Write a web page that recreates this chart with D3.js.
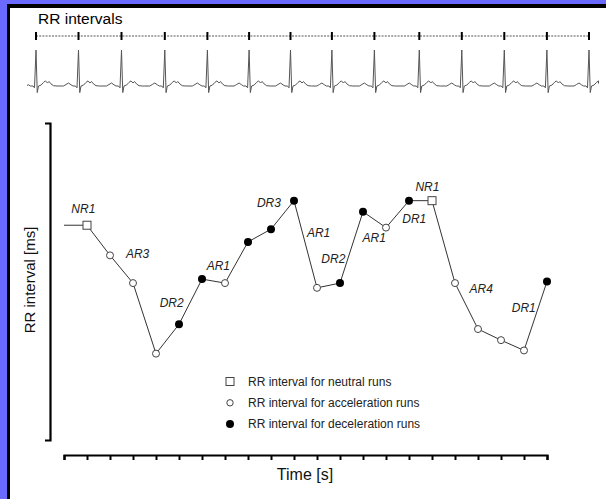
<!DOCTYPE html>
<html>
<head>
<meta charset="utf-8">
<script src="https://cdn.jsdelivr.net/npm/d3@7"></script>
<style>
  html, body { margin: 0; padding: 0; background: #fff; }
  svg { display: block; }
  text { font-family: "Liberation Sans", Arial, sans-serif; }
</style>
</head>
<body>
<svg id="chart" width="606" height="499"></svg>
<script>
// RR interval series (ms), one value per beat along the time axis
const rrValues = [871, 871, 833, 798, 709, 746, 803, 798, 850, 866, 902,
                  792, 798, 888, 868, 902, 902, 798, 740, 726, 713, 800];

// Run labels, anchored in data units (beat index, ms)
const runLabels = ["NR1", "AR3", "DR2", "AR1", "DR3", "AR1", "DR2", "AR1", "DR1", "NR1", "AR4", "DR1"];
const runLabelBeat = [0.84, 3.20, 4.68, 6.71, 8.91, 11.07, 11.71, 13.49, 15.23, 15.80, 18.14, 19.99];
const runLabelMs   = [886, 830, 768, 815, 894, 856, 823, 850, 874, 914, 785, 762];

// Legend entries
const legendTypes = ["N", "A", "D"];
const legendTexts = ["RR interval for neutral runs",
                     "RR interval for acceleration runs",
                     "RR interval for deceleration runs"];

// ECG strip: successive RR intervals (ms) between R peaks
const stripRR = [850, 860, 866, 852, 834, 828, 828, 850, 898, 850, 850, 852, 842];
// One beat of the ECG: time relative to the R peak (ms) and amplitude (mV)
const beatT  = [-300, -250, -200, -150, -110, -60, -30, 0, 25, 50, 100, 150, 190, 230, 260, 300, 350, 420];
const beatMv = [0, 0.05, 0.1, 0.04, 0, 0, -0.06, 1.2, -0.22, 0, 0.03, 0.12, 0.17, 0.1, 0.15, 0.07, 0.01, 0];

const svg = d3.select("#chart");
const W = 606, H = 499;

// ---- frame ----
svg.append("rect").attr("width", W).attr("height", H).attr("fill", "#6a6aff");
svg.append("rect").attr("x", 7).attr("y", 4).attr("width", W - 7).attr("height", H - 4).attr("fill", "#000");
svg.append("rect").attr("x", 10).attr("y", 8).attr("width", W - 10).attr("height", H - 8).attr("fill", "#fff");

// ---- ECG strip ----
svg.append("text").attr("x", 38).attr("y", 24)
  .attr("font-size", 15.5).attr("fill", "#000").text("RR intervals");

const rPeaks = [0];
stripRR.forEach(d => rPeaks.push(rPeaks[rPeaks.length - 1] + d));
const xs = d3.scaleLinear().domain([0, d3.sum(stripRR)]).range([36, 589]);
const ys = d3.scaleLinear().domain([0, 1.2]).range([86, 50]);

// dashed RR ruler with beat markers
svg.append("line")
  .attr("x1", xs(0)).attr("x2", xs(d3.sum(stripRR)))
  .attr("y1", 36).attr("y2", 36)
  .attr("stroke", "#555").attr("stroke-width", 1)
  .attr("stroke-dasharray", "2,1.2");
svg.selectAll(".rrtick").data(rPeaks).join("line")
  .attr("class", "rrtick")
  .attr("x1", d => xs(d)).attr("x2", d => xs(d))
  .attr("y1", 32).attr("y2", 40)
  .attr("stroke", "#000").attr("stroke-width", 2);

// ECG trace built from the beat shape placed at each R peak
const last = rPeaks[rPeaks.length - 1];
const ecgPts = [];
rPeaks.forEach(r => {
  beatT.forEach((t, k) => ecgPts.push([r + t, beatMv[k]]));
});
ecgPts.sort((a, b) => a[0] - b[0]);
const ecgTrace = ecgPts.filter(d => d[0] >= -180 && d[0] <= last + 190);
ecgTrace.unshift([-180, 0.02]);
ecgTrace.push([last + 190, 0.08]);
svg.append("path")
  .datum(ecgTrace)
  .attr("fill", "none").attr("stroke", "#555").attr("stroke-width", 1)
  .attr("stroke-linejoin", "round")
  .attr("d", d3.line().x(d => xs(d[0])).y(d => ys(d[1])));

// ---- RR tachogram ----
const x = d3.scaleLinear().domain([0, rrValues.length - 1]).range([64, 547]);
const y = d3.scaleLinear().domain([600, 1000]).range([440, 123]);

const yAxis = d3.axisLeft(y).tickValues([]).tickSizeOuter(5);
svg.append("g").attr("transform", "translate(50,0)").call(yAxis)
  .call(g => g.select(".domain").attr("stroke", "#000").attr("stroke-width", 2.2));

const xAxis = d3.axisBottom(x).tickValues(d3.range(rrValues.length))
  .tickSize(5).tickSizeOuter(5).tickFormat("");
svg.append("g").attr("transform", "translate(0,455)").call(xAxis)
  .call(g => g.select(".domain").attr("stroke", "#000").attr("stroke-width", 2.2))
  .call(g => g.selectAll(".tick line").attr("stroke", "#000").attr("stroke-width", 2));

svg.append("text")
  .attr("transform", "translate(35,280) rotate(-90)")
  .attr("text-anchor", "middle").attr("font-size", 15).attr("fill", "#111")
  .text("RR interval [ms]");
svg.append("text")
  .attr("x", 305).attr("y", 480).attr("text-anchor", "middle")
  .attr("font-size", 16).attr("fill", "#111").text("Time [s]");

// connecting line
svg.append("path")
  .datum(rrValues)
  .attr("fill", "none").attr("stroke", "#333").attr("stroke-width", 1)
  .attr("d", d3.line().x((d, i) => x(i)).y(d => y(d)));

// classify each beat against the previous one
const pts = rrValues.map((v, i) => ({
  i, v,
  type: i === 0 ? null : (v > rrValues[i - 1] ? "D" : v < rrValues[i - 1] ? "A" : "N")
})).filter(d => d.type);

function drawMarker(sel) {
  sel.each(function(d) {
    const g = d3.select(this);
    if (d.type === "N") {
      g.append("rect").attr("x", -4).attr("y", -4).attr("width", 8).attr("height", 8)
        .attr("fill", "#fff").attr("stroke", "#444").attr("stroke-width", 1);
    } else if (d.type === "A") {
      g.append("circle").attr("r", 3.5)
        .attr("fill", "#fff").attr("stroke", "#444").attr("stroke-width", 1);
    } else {
      g.append("circle").attr("r", 4).attr("fill", "#000");
    }
  });
}

svg.selectAll(".pt").data(pts).join("g")
  .attr("class", "pt")
  .attr("transform", d => `translate(${x(d.i)},${y(d.v)})`)
  .call(drawMarker);

// run labels
svg.selectAll(".runlab").data(runLabels).join("text")
  .attr("class", "runlab")
  .attr("x", (d, k) => x(runLabelBeat[k]))
  .attr("y", (d, k) => y(runLabelMs[k]))
  .attr("text-anchor", "middle").attr("font-size", 12)
  .attr("font-style", "italic").attr("fill", "#222")
  .text(d => d);

// legend
const legend = svg.append("g");
legendTypes.forEach((t, k) => {
  const row = legend.append("g").attr("transform", `translate(230,${381.5 + k * 21.3})`);
  row.datum({ type: t }).call(drawMarker);
  if (t === "A") row.select("circle").attr("r", 3.2);
  row.append("text").attr("x", 18).attr("y", 4.3)
    .attr("font-size", 12).attr("fill", "#222").text(legendTexts[k]);
});
</script>
</body>
</html>
